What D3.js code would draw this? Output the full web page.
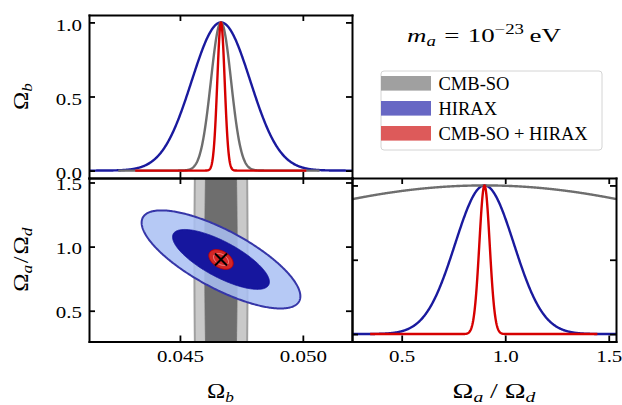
<!DOCTYPE html>
<html><head><meta charset="utf-8">
<script src="https://cdn.jsdelivr.net/npm/d3@7"></script>
<style>
body{margin:0;background:#fff}
svg{display:block}
text{font-family:"Liberation Serif",serif;font-weight:400;fill:#000}
.ax path.domain{stroke:#000;stroke-width:2;stroke-linecap:square;fill:none}
.ax .tick line{stroke:#000;stroke-width:1.8}
.ax .tick text{font-family:"Liberation Serif",serif;font-weight:400;font-size:16.5px;fill:#000}
</style>
</head><body>
<svg id="c" width="622" height="405"></svg>
<script>
// ---------------- data ----------------
const seriesNames = ["CMB-SO", "HIRAX", "CMB-SO + HIRAX"];
const fiducialOmegaB = 0.04667;
const fiducialRatio = 0.9;
// 1D marginal widths
const sigmaOmegaB1D = [0.00041, 0.00119, 0.00015];
const sigmaRatio1D  = [1.45, 0.142, 0.025];
// 2D contour widths and correlations
const sigmaOmegaB2D = [0.000435, 0.0013, 0.0002];
const sigmaRatio2D  = [1.45, 0.154, 0.031];
const rho2D         = [0, -0.75, -0.4];
// plotted extent of each 1D curve
const omegaBRange1D = [[0.04249, 0.05068], [0.0413, 0.0520], [0.04318, 0.05014]];
const ratioRange1D  = [[0.26, 1.535], [0.26, 1.535], [0.3476, 1.445]];
const contourLevels = [6.17, 2.30];   // delta chi^2 : 95%, 68%
const omegaBTicks  = [0.045, 0.050];
const ratioTicks   = [0.5, 1.0, 1.5];
const densityTicks = [0.0, 0.5, 1.0];
const omegaBDomain = [0.0413, 0.0520];
const ratioDomain  = [0.26, 1.535];
const densityDomain = [-0.05, 1.05];

// ---------------- styles ----------------
const lineColors   = ["#6e6e6e", "#1a1a9e", "#d60000"];
const fillOuter    = ["#c9c9c9", "#a9c0f3", "#d42626"];
const fillInner    = ["#6e6e6e", "#16169e", "#d42626"];
const fillOuterOp  = [1, 0.85, 1];
const edgeOuter    = ["#a0a0a0", "#3636a8", "#c40000"];
const edgeInner    = ["#6e6e6e", "#16169e", "#f3a3a3"];
const legendColors = ["#a0a0a0", "#6767c4", "#dd5a5a"];
const drawOrder1D  = [1, 0, 2];

const svg = d3.select("#c");
const X0 = 89, X1 = 352, X2 = 616, Y0 = 15, Y1 = 178, Y2 = 341.5;
const SX = 1.27;

const xB = d3.scaleLinear().domain(omegaBDomain).range([X0, X1]);
const xR = d3.scaleLinear().domain(ratioDomain).range([X1, X2]);
const yR = d3.scaleLinear().domain(ratioDomain).range([Y2, Y1]);
const yTop = d3.scaleLinear().domain(densityDomain).range([Y1, Y0]);
const yBR  = d3.scaleLinear().domain(densityDomain).range([Y2, Y1]);

const defs = svg.append("defs");
function clip(id, xs, ys) {
  const [a, b] = xs.range(), [c, d] = ys.range();
  defs.append("clipPath").attr("id", id).append("rect")
    .attr("x", a).attr("y", d).attr("width", b - a).attr("height", c - d);
  return `url(#${id})`;
}

const gauss = (x, m, s) => Math.exp(-0.5 * ((x - m) / s) ** 2);

// ---------- top-left: Omega_b 1D ----------
const gTL = svg.append("g").attr("clip-path", clip("cTL", xB, yTop));
drawOrder1D.forEach(i => {
  const [a, b] = omegaBRange1D[i];
  const pts = d3.range(0, 601).map(k => a + (b - a) * k / 600);
  gTL.append("path")
    .attr("d", d3.line().x(d => xB(d)).y(d => yTop(gauss(d, fiducialOmegaB, sigmaOmegaB1D[i])))(pts))
    .attr("fill", "none").attr("stroke", lineColors[i]).attr("stroke-width", 2.4)
    .attr("stroke-linejoin", "round");
});

// ---------- bottom-right: ratio 1D ----------
const gBR = svg.append("g").attr("clip-path", clip("cBR", xR, yBR));
drawOrder1D.forEach(i => {
  const [a, b] = ratioRange1D[i];
  const pts = d3.range(0, 601).map(k => a + (b - a) * k / 600);
  gBR.append("path")
    .attr("d", d3.line().x(d => xR(d)).y(d => yBR(gauss(d, fiducialRatio, sigmaRatio1D[i])))(pts))
    .attr("fill", "none").attr("stroke", lineColors[i]).attr("stroke-width", 2.4)
    .attr("stroke-linejoin", "round");
});

// ---------- bottom-left: 2D contours ----------
const gBL = svg.append("g").attr("clip-path", clip("cBL", xB, yR));
function ellipse(i, k) {
  const sx = sigmaOmegaB2D[i], sy = sigmaRatio2D[i], r = rho2D[i], s = Math.sqrt(k);
  return d3.range(0, 360).map(deg => {
    const t = deg * Math.PI / 180, u = s * Math.cos(t), v = s * Math.sin(t);
    return [fiducialOmegaB + sx * u, fiducialRatio + sy * (r * u + Math.sqrt(1 - r * r) * v)];
  });
}
const ell = d3.line().x(d => xB(d[0])).y(d => yR(d[1])).curve(d3.curveLinearClosed);
[0, 1, 2].forEach(i => {
  gBL.append("path").attr("d", ell(ellipse(i, contourLevels[0])))
    .attr("fill", fillOuter[i]).attr("fill-opacity", fillOuterOp[i])
    .attr("stroke", edgeOuter[i]).attr("stroke-width", i === 2 ? 1 : 2);
  gBL.append("path").attr("d", ell(ellipse(i, contourLevels[1])))
    .attr("fill", fillInner[i])
    .attr("stroke", edgeInner[i]).attr("stroke-width", i === 2 ? 1 : 0.8);
});
// fiducial marker
const fx = xB(fiducialOmegaB), fy = yR(fiducialRatio), m = 6;
gBL.append("path")
  .attr("d", `M${fx - m},${fy - m}L${fx + m},${fy + m}M${fx - m},${fy + m}L${fx + m},${fy - m}`)
  .attr("stroke", "#000").attr("stroke-width", 2).attr("fill", "none");

// ---------- axes ----------
const TS = -6;
function axes(xs, ys, xt, yt, showX, showY, xfmt, yfmt, ydy) {
  const [xa, xb] = xs.range(), [ya, yb] = ys.range();
  const none = () => "";
  const add = (axis, tx, ty) => svg.append("g").attr("class", "ax")
    .attr("transform", `translate(${tx},${ty})`).call(axis)
    .attr("font-size", null).attr("font-family", null);
  const bottom = add(d3.axisBottom(xs).tickValues(xt).tickSize(TS).tickSizeOuter(0)
    .tickFormat(showX ? xfmt : none), 0, ya);
  add(d3.axisTop(xs).tickValues(xt).tickSize(TS).tickSizeOuter(0).tickFormat(none), 0, yb);
  const left = add(d3.axisLeft(ys).tickValues(yt).tickSize(TS).tickSizeOuter(0)
    .tickFormat(showY ? yfmt : none), xa, 0);
  add(d3.axisRight(ys).tickValues(yt).tickSize(TS).tickSizeOuter(0).tickFormat(none), xb, 0);
  bottom.selectAll(".tick text").attr("y", 20.8).attr("dy", 0).attr("transform", `scale(${SX},1)`);
  left.selectAll(".tick text").attr("x", -7 / SX).attr("dy", ydy).attr("transform", `scale(${SX},1)`);
}
const f3 = d3.format(".3f"), f1 = d3.format(".1f");
axes(xB, yTop, omegaBTicks, densityTicks, false, true, f3, f1, "0.48em");
axes(xB, yR, omegaBTicks, ratioTicks, true, true, f3, f1, "0.42em");
axes(xR, yBR, ratioTicks, densityTicks, true, false, f1, f1, "0.4em");

// ---------- math-like text ----------
function addMath(parts, fs, x, y, rot, sx, anchor) {
  const t = svg.append("text").attr("font-size", fs + "px")
    .attr("text-anchor", anchor || "middle");
  let shift = 0;
  parts.forEach(p => {
    const target = p.sub ? fs * 0.2 : p.sup ? -fs * 0.4 : 0;
    const ts = t.append("tspan").text(p.t).attr("dy", target - shift);
    if (p.sub || p.sup) ts.attr("font-size", (fs * 0.7) + "px");
    if (p.it) ts.attr("font-style", "italic");
    if (p.dx) ts.attr("dx", p.dx);
    shift = target;
  });
  let s = sx;
  if (typeof sx === "object") s = sx.width / t.node().getBBox().width;
  t.attr("transform", `translate(${x},${y})${rot ? " rotate(-90)" : ""} scale(${s},1)`);
  return t;
}
const omegaB = [{t: "Ω"}, {t: "b", it: true, sub: true}];
const ratio = [{t: "Ω"}, {t: "a", it: true, sub: true}, {t: "/", dx: 1.5}, {t: "Ω", dx: 1.5}, {t: "d", it: true, sub: true}];
const ratioWide = [{t: "Ω"}, {t: "a", it: true, sub: true}, {t: "/", dx: 5}, {t: "Ω", dx: 5}, {t: "d", it: true, sub: true}];
addMath(omegaB, 20.5, (X0 + X1) / 2, 398, false, 1.2);
addMath(ratioWide, 20.5, 494, 398, false, {width: 84});
addMath(omegaB, 20.5, 28, (Y0 + Y1) / 2, true, 1.2);
addMath(ratio, 20.5, 28, (Y1 + Y2) / 2, true, 1.2);
addMath([{t: "m", it: true}, {t: "a", it: true, sub: true}, {t: "=", dx: 6}, {t: "10", dx: 6},
         {t: "−23", sup: true}, {t: "eV", dx: 4}], 19.5, (X1 + X2) / 2, 41.7, false, {width: 154});

// ---------- legend ----------
const lg = svg.append("g");
lg.append("rect").attr("x", 381).attr("y", 71).attr("width", 221).attr("height", 79)
  .attr("rx", 3).attr("fill", "#fff").attr("stroke", "#d4d4d4").attr("stroke-width", 1);
seriesNames.forEach((name, i) => {
  const cy = 83.3 + 25 * i;
  lg.append("rect").attr("x", 381).attr("y", cy - 7.3).attr("width", 50).attr("height", 14.6)
    .attr("fill", legendColors[i]);
  lg.append("text").attr("x", 438.5).attr("y", cy + 6.2).attr("font-size", "18.5px").text(name);
});
</script>
</body></html>
